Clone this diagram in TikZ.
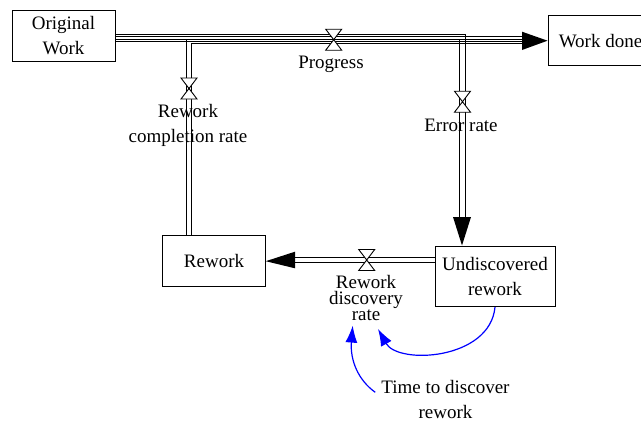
\documentclass[tikz,border=0pt]{standalone}
\usepackage{fontspec}
\setmainfont{Liberation Serif}
\usetikzlibrary{arrows.meta}
\newcommand\dgfont{\fontsize{19}{24.5}\selectfont}
\newcommand\dgtight{\fontsize{19}{16}\selectfont}
\begin{document}
\begin{tikzpicture}[x=1pt,y=-1pt,
  stock/.style={draw,line width=0.9pt,inner sep=0pt,align=center,font=\dgfont},
  lbl/.style={inner sep=0pt,align=center,font=\dgfont},
  pipe/.style={line width=0.9pt},
  head/.style={fill=black},
  info/.style={draw=blue,line width=1.2pt,-{Latex[length=17pt,width=12pt]}},
  valve/.pic={\draw[fill=white,line width=0.9pt] (-8,-10.5) -- (8,-10.5) -- (-8,10.5) -- (8,10.5) -- cycle;}]
\useasboundingbox (0,0) rectangle (641,423);
\clip (0,0) rectangle (641,423);
\fill[white] (0,0) rectangle (641,423);

% stocks
\node[stock,minimum width=103pt,minimum height=51pt] (ow) at (63.5,35.5) {Original\\Work};
\node[stock,minimum width=105pt,minimum height=50pt] (wd) at (600.5,40.7) {Work done};
\node[stock,minimum width=102.6pt,minimum height=51pt] (rw) at (214,261.2) {Rework};
\node[stock,minimum width=120pt,minimum height=60.7pt] (ur) at (495,276.3) {Undiscovered\\rework};

% pipe end points
\coordinate (eTop) at (465,34.3);
\coordinate (eIn) at (459.3,39);
\coordinate (eEnd) at (462,217);
\coordinate (hEnd) at (522,40.8);
\coordinate (dEnd) at (295,260);

% error rate pipe: Original Work -> Undiscovered rework
\draw[pipe] (ow.east |- eTop) -- (eTop) -- (eTop |- eEnd);
\draw[pipe] (ow.east |- eIn) -- (eIn) -- (eIn |- eEnd);
% progress pipe: Original Work -> Work done
\draw[pipe] (ow.east |- 0,36.7) -- (hEnd |- 0,36.7);
\draw[pipe] (ow.east |- 0,41.3) -- (hEnd |- 0,41.3);
% rework completion pipe: Rework -> Work done
\draw[pipe] (rw.north -| 186,0) -- (186,39) -- (hEnd |- 0,39);
\draw[pipe] (rw.north -| 191.7,0) -- (191.7,43.7) -- (hEnd |- 0,43.7);
% rework discovery pipe: Undiscovered rework -> Rework
\draw[pipe] (ur.west |- 0,257.3) -- (dEnd |- 0,257.3);
\draw[pipe] (ur.west |- 0,262.7) -- (dEnd |- 0,262.7);

% flow heads
\fill[head] (hEnd |- 0,31.7) -- (wd.west) -- (hEnd |- 0,50) -- cycle;
\fill[head] (453,217) -- (ur.north west -| eEnd) -- (471,217) -- cycle;
\fill[head] (dEnd |- 0,251.7) -- (rw.east) -- (dEnd |- 0,268.3) -- cycle;

% valves
\pic at (333.7,39.7) {valve};
\pic at (189,88.5) {valve};
\pic at (462.5,101.7) {valve};
\pic at (366.7,260) {valve};

% flow labels
\node[lbl] (lp) at (331,64) {Progress};
\node[lbl] (lrc) at (188,125.5) {Rework\\completion rate};
\node[lbl] (ler) at (461,125.4) {Error rate};
\node[lbl,font=\dgtight] (lrd) at (366,297.5) {Rework\\discovery\\rate};
\node[lbl] (ttd) at (445.5,399.3) {Time to discover\\rework};

% information links
\draw[info] (ur.south) .. controls (490,360) and (398,365) .. ([xshift=12pt,yshift=-8.5pt]lrd.south);
\draw[info] ([xshift=-6pt,yshift=7pt]ttd.west) .. controls (358,380) and (350,360) .. ([xshift=-13.3pt,yshift=-5.2pt]lrd.south);
\end{tikzpicture}
\end{document}
